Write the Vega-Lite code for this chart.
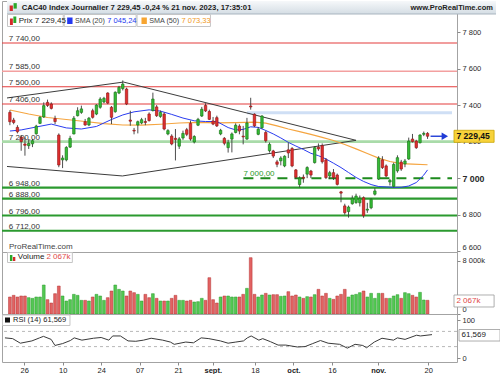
{
"$schema":"https://vega.github.io/schema/vega-lite/v6.json",
"padding":0,
"autosize":{"type":"pad"},
"background":"white",
"bounds":"flush",
"spacing":0,
"config":{"font":"Liberation Sans","view":{"stroke":"#a3a3a3","strokeWidth":1},
"axis":{"labelFont":"Liberation Sans","labelColor":"#2a2a2a","labelFontSize":7.5,"domain":false,"grid":false,"tickColor":"#8a8a8a","tickSize":3,"labelPadding":2,"labelOverlap":false,"labelBound":false,"labelFlush":false}},
"datasets":{
"ohlc":[{"i":-5,"o":7360,"h":7372,"l":7290,"c":7309,"v":2566},{"i":-4,"o":7318,"h":7330,"l":7295,"c":7305,"v":2817},{"i":-3,"o":7278,"h":7290,"l":7245,"c":7254,"v":2566},{"i":-2,"o":7225,"h":7235,"l":7150,"c":7200,"v":2717},{"i":-1,"o":7187,"h":7222,"l":7123,"c":7180,"v":2717},{"i":0,"o":7178,"h":7214,"l":7160,"c":7190,"v":2465},{"i":1,"o":7188,"h":7215,"l":7170,"c":7205,"v":2364},{"i":2,"o":7243,"h":7292,"l":7238,"c":7285,"v":2566},{"i":3,"o":7300,"h":7340,"l":7296,"c":7333,"v":2566},{"i":4,"o":7335,"h":7415,"l":7330,"c":7397,"v":4377},{"i":5,"o":7415,"h":7430,"l":7390,"c":7398,"v":2163},{"i":6,"o":7406,"h":7415,"l":7376,"c":7382,"v":1660},{"i":7,"o":7326,"h":7342,"l":7296,"c":7310,"v":3068},{"i":8,"o":7236,"h":7245,"l":7060,"c":7072,"v":4226},{"i":9,"o":7100,"h":7125,"l":7055,"c":7110,"v":2717},{"i":10,"o":7100,"h":7175,"l":7092,"c":7168,"v":1962},{"i":11,"o":7170,"h":7232,"l":7165,"c":7218,"v":2163},{"i":12,"o":7242,"h":7340,"l":7240,"c":7328,"v":2968},{"i":13,"o":7342,"h":7388,"l":7338,"c":7369,"v":2817},{"i":14,"o":7360,"h":7397,"l":7352,"c":7379,"v":2062},{"i":15,"o":7309,"h":7324,"l":7287,"c":7291,"v":2062},{"i":16,"o":7291,"h":7335,"l":7285,"c":7328,"v":1962},{"i":17,"o":7369,"h":7380,"l":7326,"c":7333,"v":2566},{"i":18,"o":7351,"h":7405,"l":7345,"c":7400,"v":2968},{"i":19,"o":7388,"h":7443,"l":7380,"c":7433,"v":2717},{"i":20,"o":7417,"h":7445,"l":7410,"c":7437,"v":2062},{"i":21,"o":7466,"h":7470,"l":7405,"c":7411,"v":2465},{"i":22,"o":7388,"h":7395,"l":7296,"c":7333,"v":3471},{"i":23,"o":7364,"h":7475,"l":7358,"c":7470,"v":4377},{"i":24,"o":7466,"h":7505,"l":7460,"c":7497,"v":3722},{"i":25,"o":7490,"h":7535,"l":7480,"c":7515,"v":3471},{"i":26,"o":7488,"h":7495,"l":7400,"c":7406,"v":2717},{"i":27,"o":7318,"h":7369,"l":7287,"c":7312,"v":3471},{"i":28,"o":7262,"h":7275,"l":7240,"c":7258,"v":3220},{"i":29,"o":7291,"h":7315,"l":7245,"c":7309,"v":2968},{"i":30,"o":7302,"h":7330,"l":7295,"c":7320,"v":1962},{"i":31,"o":7310,"h":7330,"l":7290,"c":7305,"v":2968},{"i":32,"o":7351,"h":7360,"l":7310,"c":7315,"v":2465},{"i":33,"o":7370,"h":7468,"l":7365,"c":7433,"v":3068},{"i":34,"o":7390,"h":7400,"l":7335,"c":7342,"v":2364},{"i":35,"o":7338,"h":7370,"l":7330,"c":7360,"v":1962},{"i":36,"o":7351,"h":7360,"l":7262,"c":7269,"v":1962},{"i":37,"o":7242,"h":7268,"l":7235,"c":7260,"v":1962},{"i":38,"o":7230,"h":7240,"l":7180,"c":7187,"v":2364},{"i":39,"o":7218,"h":7269,"l":7097,"c":7212,"v":2817},{"i":40,"o":7175,"h":7225,"l":7160,"c":7215,"v":2062},{"i":41,"o":7220,"h":7260,"l":7210,"c":7245,"v":2062},{"i":42,"o":7265,"h":7275,"l":7230,"c":7240,"v":1962},{"i":43,"o":7300,"h":7315,"l":7205,"c":7214,"v":2062},{"i":44,"o":7198,"h":7235,"l":7190,"c":7228,"v":1811},{"i":45,"o":7290,"h":7330,"l":7285,"c":7322,"v":1861},{"i":46,"o":7340,"h":7390,"l":7335,"c":7377,"v":2364},{"i":47,"o":7398,"h":7410,"l":7362,"c":7368,"v":2062},{"i":48,"o":7365,"h":7375,"l":7318,"c":7322,"v":5483},{"i":49,"o":7313,"h":7335,"l":7290,"c":7296,"v":2163},{"i":50,"o":7331,"h":7342,"l":7280,"c":7286,"v":1660},{"i":51,"o":7242,"h":7270,"l":7235,"c":7262,"v":2566},{"i":52,"o":7218,"h":7225,"l":7180,"c":7191,"v":2717},{"i":53,"o":7167,"h":7210,"l":7140,"c":7194,"v":2717},{"i":54,"o":7214,"h":7250,"l":7141,"c":7242,"v":2566},{"i":55,"o":7250,"h":7300,"l":7245,"c":7290,"v":2566},{"i":56,"o":7285,"h":7295,"l":7240,"c":7258,"v":2566},{"i":57,"o":7230,"h":7286,"l":7185,"c":7226,"v":2968},{"i":58,"o":7214,"h":7330,"l":7210,"c":7302,"v":3873},{"i":59,"o":7395,"h":7440,"l":7375,"c":7390,"v":8501},{"i":60,"o":7350,"h":7355,"l":7280,"c":7286,"v":2968},{"i":61,"o":7240,"h":7280,"l":7235,"c":7268,"v":2566},{"i":62,"o":7276,"h":7345,"l":7270,"c":7340,"v":2867},{"i":63,"o":7250,"h":7260,"l":7195,"c":7205,"v":3119},{"i":64,"o":7150,"h":7195,"l":7140,"c":7185,"v":2867},{"i":65,"o":7149,"h":7155,"l":7110,"c":7121,"v":2918},{"i":66,"o":7089,"h":7100,"l":7060,"c":7076,"v":2918},{"i":67,"o":7095,"h":7120,"l":7070,"c":7110,"v":2666},{"i":68,"o":7067,"h":7125,"l":7060,"c":7120,"v":2717},{"i":69,"o":7155,"h":7195,"l":7110,"c":7138,"v":3370},{"i":70,"o":7162,"h":7170,"l":7060,"c":7067,"v":2717},{"i":71,"o":7045,"h":7050,"l":6995,"c":7005,"v":2867},{"i":72,"o":6965,"h":7010,"l":6950,"c":7000,"v":2566},{"i":73,"o":7005,"h":7020,"l":6975,"c":7000,"v":2364},{"i":74,"o":7022,"h":7065,"l":7000,"c":7058,"v":2616},{"i":75,"o":7039,"h":7045,"l":7000,"c":7017,"v":2566},{"i":76,"o":7085,"h":7175,"l":7080,"c":7167,"v":2918},{"i":77,"o":7170,"h":7190,"l":7150,"c":7160,"v":3722},{"i":78,"o":7178,"h":7190,"l":7080,"c":7090,"v":2717},{"i":79,"o":7100,"h":7110,"l":6995,"c":7003,"v":3119},{"i":80,"o":7012,"h":7040,"l":6995,"c":7030,"v":2364},{"i":81,"o":7030,"h":7050,"l":6990,"c":7003,"v":2213},{"i":82,"o":7017,"h":7025,"l":6960,"c":6966,"v":2717},{"i":83,"o":6925,"h":6930,"l":6868,"c":6918,"v":2968},{"i":84,"o":6848,"h":6860,"l":6800,"c":6811,"v":3722},{"i":85,"o":6817,"h":6850,"l":6784,"c":6842,"v":2566},{"i":86,"o":6860,"h":6905,"l":6855,"c":6890,"v":2867},{"i":87,"o":6866,"h":6915,"l":6860,"c":6902,"v":2968},{"i":88,"o":6865,"h":6905,"l":6845,"c":6890,"v":3220},{"i":89,"o":6893,"h":6900,"l":6783,"c":6795,"v":3471},{"i":90,"o":6825,"h":6865,"l":6810,"c":6830,"v":2566},{"i":91,"o":6838,"h":6890,"l":6830,"c":6884,"v":3119},{"i":92,"o":6912,"h":6945,"l":6905,"c":6930,"v":2364},{"i":93,"o":6995,"h":7120,"l":6990,"c":7110,"v":3119},{"i":94,"o":7100,"h":7120,"l":7050,"c":7058,"v":3119},{"i":95,"o":7067,"h":7075,"l":7005,"c":7012,"v":2364},{"i":96,"o":6979,"h":6995,"l":6960,"c":6988,"v":2364},{"i":97,"o":6955,"h":7085,"l":6950,"c":7075,"v":2717},{"i":98,"o":7040,"h":7125,"l":7030,"c":7112,"v":2918},{"i":99,"o":7088,"h":7100,"l":7040,"c":7050,"v":2364},{"i":100,"o":7078,"h":7105,"l":7060,"c":7094,"v":3220},{"i":101,"o":7105,"h":7222,"l":7100,"c":7203,"v":3068},{"i":102,"o":7214,"h":7242,"l":7195,"c":7200,"v":2817},{"i":103,"o":7203,"h":7210,"l":7160,"c":7167,"v":2566},{"i":104,"o":7194,"h":7240,"l":7190,"c":7236,"v":3270},{"i":105,"o":7240,"h":7255,"l":7230,"c":7245,"v":2113},{"i":106,"o":7245,"h":7252,"l":7215,"c":7229.45,"v":2067}],
"sma20":[{"i":-5,"s":7258},{"i":-2,"s":7264},{"i":2,"s":7280},{"i":6,"s":7296},{"i":10,"s":7275},{"i":14,"s":7269},{"i":18,"s":7283},{"i":22,"s":7321},{"i":25,"s":7346},{"i":28,"s":7363},{"i":32,"s":7374},{"i":35,"s":7367},{"i":38,"s":7349},{"i":41,"s":7329},{"i":44,"s":7314},{"i":47,"s":7310},{"i":50,"s":7310},{"i":53,"s":7277},{"i":55,"s":7264},{"i":57,"s":7267},{"i":59,"s":7281},{"i":61,"s":7278},{"i":63,"s":7261},{"i":65,"s":7242},{"i":67,"s":7220},{"i":69,"s":7196},{"i":71,"s":7176},{"i":73,"s":7157},{"i":75,"s":7136},{"i":77,"s":7123},{"i":79,"s":7105},{"i":81,"s":7082},{"i":83,"s":7058},{"i":85,"s":7031},{"i":87,"s":7004},{"i":89,"s":6982},{"i":91,"s":6965},{"i":93,"s":6954},{"i":95,"s":6952},{"i":97,"s":6950},{"i":99,"s":6950},{"i":101,"s":6957},{"i":103,"s":6976},{"i":105,"s":7017},{"i":106,"s":7045.24}],
"sma50":[{"i":-5,"s":7373},{"i":0,"s":7351},{"i":5,"s":7332},{"i":10,"s":7321},{"i":15,"s":7310},{"i":20,"s":7299},{"i":25,"s":7291},{"i":30,"s":7290},{"i":35,"s":7295},{"i":40,"s":7302},{"i":45,"s":7305},{"i":50,"s":7303},{"i":55,"s":7304},{"i":60,"s":7307},{"i":63,"s":7301},{"i":66,"s":7286},{"i":69,"s":7269},{"i":72,"s":7255},{"i":75,"s":7240},{"i":78,"s":7223},{"i":81,"s":7206},{"i":84,"s":7184},{"i":87,"s":7160},{"i":90,"s":7135},{"i":93,"s":7110},{"i":96,"s":7091},{"i":99,"s":7080},{"i":102,"s":7077},{"i":106,"s":7073.33}],
"rsi":[{"i":-5,"r":53},{"i":-3,"r":51},{"i":-1,"r":39},{"i":2,"r":45},{"i":4,"r":53},{"i":5,"r":57},{"i":7,"r":49},{"i":8,"r":33},{"i":10,"r":38},{"i":12,"r":46},{"i":13,"r":53},{"i":15,"r":47},{"i":18,"r":52},{"i":20,"r":54},{"i":22,"r":47},{"i":23,"r":58},{"i":25,"r":58},{"i":27,"r":45},{"i":29,"r":44},{"i":31,"r":47},{"i":33,"r":52},{"i":36,"r":47},{"i":38,"r":42},{"i":39,"r":36},{"i":42,"r":42},{"i":44,"r":40},{"i":46,"r":53},{"i":48,"r":51},{"i":51,"r":45},{"i":53,"r":39},{"i":55,"r":42},{"i":57,"r":45},{"i":58,"r":53},{"i":59,"r":58},{"i":61,"r":47},{"i":62,"r":51},{"i":64,"r":43},{"i":66,"r":34},{"i":68,"r":34},{"i":71,"r":29},{"i":73,"r":30},{"i":75,"r":38},{"i":77,"r":46},{"i":79,"r":39},{"i":82,"r":36},{"i":84,"r":26},{"i":86,"r":36},{"i":88,"r":33},{"i":89,"r":27},{"i":91,"r":42},{"i":93,"r":52},{"i":96,"r":47},{"i":97,"r":53},{"i":99,"r":49},{"i":102,"r":60},{"i":103,"r":58},{"i":106,"r":61.569}],
"levels":[{"p":7740,"lab":"7 740,00","k":"r"},{"p":7585,"lab":"7 585,00","k":"rp"},{"p":7500,"lab":"7 500,00","k":"r"},{"p":7406,"lab":"7 406,00","k":"r"},{"p":7200,"lab":"7 200,00","k":"gl"},{"p":6948,"lab":"6 948,00","k":"g"},{"p":6888,"lab":"6 888,00","k":"g"},{"p":6796,"lab":"6 796,00","k":"g"},{"p":6712,"lab":"6 712,00","k":"g"}],
"tri":[{"s":"a","i":-5.77,"p":7439},{"s":"a","i":25.2,"p":7526},{"s":"a","i":87,"p":7207},{"s":"b","i":-5.77,"p":7064},{"s":"b","i":24.9,"p":7012},{"s":"b","i":87,"p":7207}]
},
"vconcat":[
{"width":455,"height":251,
"layer":[
{"data":{"values":[{}]},"mark":{"type":"rect","color":{"gradient":"linear","x1":0,"y1":0,"x2":0,"y2":1,"stops":[{"offset":0,"color":"#f6f8fa"},{"offset":1,"color":"#d4dde4"}]}},
 "encoding":{"x":{"datum":-5.77,"type":"quantitative","scale":{"domain":[-5.77,112.5],"nice":false,"zero":false},"axis":null},"x2":{"datum":124.2},"y":{"datum":7898.5,"type":"quantitative","scale":{"domain":[6595.8,7969.7],"nice":false,"zero":false},"title":null},"y2":{"datum":7969.7}}},
{"data":{"values":[{}]},"mark":{"type":"rule","color":"#a9b5bf","strokeWidth":1},
 "encoding":{"x":{"datum":-5.77,"type":"quantitative","scale":{"domain":[-5.77,112.5],"nice":false,"zero":false},"axis":null},"x2":{"datum":124.2},"y":{"datum":7898.5,"type":"quantitative","scale":{"domain":[6595.8,7969.7],"nice":false,"zero":false},"title":null}}},
{"data":{"values":[{}]},"mark":{"type":"rect","color":"#d42a2a"},
 "encoding":{"x":{"datum":-5.07,"type":"quantitative","scale":{"domain":[-5.77,112.5],"nice":false,"zero":false},"axis":null},"x2":{"datum":-4.21},"y":{"datum":7915,"type":"quantitative","scale":{"domain":[6595.8,7969.7],"nice":false,"zero":false},"title":null},"y2":{"datum":7945}}},
{"data":{"values":[{}]},"mark":{"type":"rect","color":"#2aa82a"},
 "encoding":{"x":{"datum":-4.03,"type":"quantitative","scale":{"domain":[-5.77,112.5],"nice":false,"zero":false},"axis":null},"x2":{"datum":-3.17},"y":{"datum":7928,"type":"quantitative","scale":{"domain":[6595.8,7969.7],"nice":false,"zero":false},"title":null},"y2":{"datum":7958}}},
{"data":{"values":[{}]},"mark":{"type":"text","text":"CAC40 Index Journalier 7 229,45 -0,24 % 21 nov. 2023, 17:35:01","align":"left","baseline":"middle","fontWeight":"bold","fontSize":7.7,"color":"#1c1c1c"},
 "encoding":{"x":{"datum":-1.87,"type":"quantitative","scale":{"domain":[-5.77,112.5],"nice":false,"zero":false},"axis":null},"y":{"datum":7931.4,"type":"quantitative","scale":{"domain":[6595.8,7969.7],"nice":false,"zero":false},"title":null}}},
{"data":{"values":[{}]},"mark":{"type":"text","text":"www.ProRealTime.com","align":"right","baseline":"middle","fontWeight":"bold","fontSize":7.5,"color":"#222222"},
 "encoding":{"x":{"datum":123.4,"type":"quantitative","scale":{"domain":[-5.77,112.5],"nice":false,"zero":false},"axis":null},"y":{"datum":7931.4,"type":"quantitative","scale":{"domain":[6595.8,7969.7],"nice":false,"zero":false},"title":null}}},
{"data":{"name":"levels"},"mark":{"type":"rule"},
 "encoding":{"y":{"field":"p","type":"quantitative","scale":{"domain":[6595.8,7969.7],"nice":false,"zero":false},"title":null},
 "color":{"field":"k","type":"nominal","scale":{"domain":["r","rp","g","gl"],"range":["#e43c3c","#f3a0a0","#2b9a2f","#a9dba9"]},"legend":null},
 "strokeWidth":{"field":"k","type":"nominal","scale":{"domain":["r","rp","g","gl"],"range":[1.1,2.6,1.2,2.6]},"legend":null}}},
{"data":{"values":[{}]},"mark":{"type":"rule","color":"#cfdff5","strokeWidth":3},
 "encoding":{"x":{"datum":58,"type":"quantitative","scale":{"domain":[-5.77,112.5],"nice":false,"zero":false},"axis":null},"x2":{"datum":112.5},"y":{"datum":7358,"type":"quantitative","scale":{"domain":[6595.8,7969.7],"nice":false,"zero":false},"title":null}}},
{"data":{"values":[{}]},"mark":{"type":"rule","color":"#1d8a1d","strokeWidth":2,"strokeDash":[10,7]},
 "encoding":{"x":{"datum":57.06,"type":"quantitative","scale":{"domain":[-5.77,112.5],"nice":false,"zero":false},"axis":null},"x2":{"datum":112.5},"y":{"datum":7000,"type":"quantitative","scale":{"domain":[6595.8,7969.7],"nice":false,"zero":false},"title":null}}},
{"data":{"values":[{}]},"mark":{"type":"text","text":"7 000,00","align":"left","baseline":"middle","fontSize":8,"color":"#2a9a2a"},
 "encoding":{"x":{"datum":57.06,"type":"quantitative","scale":{"domain":[-5.77,112.5],"nice":false,"zero":false},"axis":null},"y":{"datum":7021,"type":"quantitative","scale":{"domain":[6595.8,7969.7],"nice":false,"zero":false},"title":null}}},
{"data":{"name":"tri"},"mark":{"type":"line","color":"#3c3c3c","strokeWidth":1},
 "encoding":{"x":{"field":"i","type":"quantitative","scale":{"domain":[-5.77,112.5],"nice":false,"zero":false},"axis":null},"y":{"field":"p","type":"quantitative","scale":{"domain":[6595.8,7969.7],"nice":false,"zero":false},"title":null},"detail":{"field":"s"}}},
{"data":{"name":"sma50"},"mark":{"type":"line","color":"#f5a540","strokeWidth":1.2},
 "encoding":{"x":{"field":"i","type":"quantitative","scale":{"domain":[-5.77,112.5],"nice":false,"zero":false},"axis":null},"y":{"field":"s","type":"quantitative","scale":{"domain":[6595.8,7969.7],"nice":false,"zero":false},"title":null}}},
{"data":{"name":"sma20"},"mark":{"type":"line","color":"#2a3cf0","strokeWidth":1},
 "encoding":{"x":{"field":"i","type":"quantitative","scale":{"domain":[-5.77,112.5],"nice":false,"zero":false},"axis":null},"y":{"field":"s","type":"quantitative","scale":{"domain":[6595.8,7969.7],"nice":false,"zero":false},"title":null}}},
{"data":{"name":"ohlc"},"mark":{"type":"rule","color":"#3a3a3a","strokeWidth":0.9},
 "encoding":{"x":{"field":"i","type":"quantitative","scale":{"domain":[-5.77,112.5],"nice":false,"zero":false},"axis":null},
 "y":{"field":"l","type":"quantitative","scale":{"domain":[6595.8,7969.7],"nice":false,"zero":false},"title":null,
  "axis":{"orient":"right","values":[6600,6700,6800,6900,7000,7100,7200,7300,7400,7500,7600,7700,7800],"labelExpr":"replace(format(datum.value, ','), ',', ' ')","labelFontWeight":{"condition":{"test":"datum.value == 7000 || datum.value == 7500","value":"bold"},"value":"normal"},"labelFontSize":{"condition":{"test":"datum.value == 7000 || datum.value == 7500","value":8.8},"value":7.5},"labelOffset":{"condition":{"test":"datum.value == 6600","value":-4},"value":0},"title":null}},
 "y2":{"field":"h"}}},
{"data":{"name":"ohlc"},"mark":{"type":"bar","size":2.4,"strokeWidth":0.7},
 "encoding":{"x":{"field":"i","type":"quantitative","scale":{"domain":[-5.77,112.5],"nice":false,"zero":false},"axis":null},
 "y":{"field":"o","type":"quantitative","scale":{"domain":[6595.8,7969.7],"nice":false,"zero":false},"title":null},"y2":{"field":"c"},
 "color":{"condition":{"test":"datum.c >= datum.o","value":"#36bd36"},"value":"#e22f2f"},
 "stroke":{"condition":{"test":"datum.c >= datum.o","value":"#1b7a1b"},"value":"#981b1b"}}},
{"data":{"name":"levels"},"mark":{"type":"text","align":"left","baseline":"alphabetic","dy":-1.8,"fontSize":8,"color":"#333333"},
 "encoding":{"x":{"datum":-5.3,"type":"quantitative","scale":{"domain":[-5.77,112.5],"nice":false,"zero":false},"axis":null},"y":{"field":"p","type":"quantitative","scale":{"domain":[6595.8,7969.7],"nice":false,"zero":false},"title":null},"text":{"field":"lab"}}},
{"data":{"values":[{}]},"mark":{"type":"rect","fill":"white","stroke":"#c5c5c5","strokeWidth":1},
 "encoding":{"x":{"datum":-5.64,"type":"quantitative","scale":{"domain":[-5.77,112.5],"nice":false,"zero":false},"axis":null},"x2":{"datum":9.18},"y":{"datum":7830.1,"type":"quantitative","scale":{"domain":[6595.8,7969.7],"nice":false,"zero":false},"title":null},"y2":{"datum":7895.8}}},
{"data":{"values":[{}]},"mark":{"type":"rect","fill":"white","stroke":"#c5c5c5","strokeWidth":1},
 "encoding":{"x":{"datum":9.44,"type":"quantitative","scale":{"domain":[-5.77,112.5],"nice":false,"zero":false},"axis":null},"x2":{"datum":28.54},"y":{"datum":7830.1,"type":"quantitative","scale":{"domain":[6595.8,7969.7],"nice":false,"zero":false},"title":null},"y2":{"datum":7895.8}}},
{"data":{"values":[{}]},"mark":{"type":"rect","fill":"white","stroke":"#c5c5c5","strokeWidth":1},
 "encoding":{"x":{"datum":28.8,"type":"quantitative","scale":{"domain":[-5.77,112.5],"nice":false,"zero":false},"axis":null},"x2":{"datum":48.3},"y":{"datum":7830.1,"type":"quantitative","scale":{"domain":[6595.8,7969.7],"nice":false,"zero":false},"title":null},"y2":{"datum":7895.8}}},
{"data":{"values":[{}]},"mark":{"type":"rect","color":"#d42a2a"},
 "encoding":{"x":{"datum":-4.99,"type":"quantitative","scale":{"domain":[-5.77,112.5],"nice":false,"zero":false},"axis":null},"x2":{"datum":-4.21},"y":{"datum":7838.3,"type":"quantitative","scale":{"domain":[6595.8,7969.7],"nice":false,"zero":false},"title":null},"y2":{"datum":7873.9}}},
{"data":{"values":[{}]},"mark":{"type":"rect","color":"#2aa82a"},
 "encoding":{"x":{"datum":-4.08,"type":"quantitative","scale":{"domain":[-5.77,112.5],"nice":false,"zero":false},"axis":null},"x2":{"datum":-3.3},"y":{"datum":7849.3,"type":"quantitative","scale":{"domain":[6595.8,7969.7],"nice":false,"zero":false},"title":null},"y2":{"datum":7884.9}}},
{"data":{"values":[{}]},"mark":{"type":"rect","color":"#2438f0"},
 "encoding":{"x":{"datum":10.22,"type":"quantitative","scale":{"domain":[-5.77,112.5],"nice":false,"zero":false},"axis":null},"x2":{"datum":11.65},"y":{"datum":7843.8,"type":"quantitative","scale":{"domain":[6595.8,7969.7],"nice":false,"zero":false},"title":null},"y2":{"datum":7879.4}}},
{"data":{"values":[{}]},"mark":{"type":"rect","color":"#f7a531"},
 "encoding":{"x":{"datum":29.97,"type":"quantitative","scale":{"domain":[-5.77,112.5],"nice":false,"zero":false},"axis":null},"x2":{"datum":31.4},"y":{"datum":7843.8,"type":"quantitative","scale":{"domain":[6595.8,7969.7],"nice":false,"zero":false},"title":null},"y2":{"datum":7879.4}}},
{"data":{"values":[{}]},"mark":{"type":"text","text":"Prix 7 229,45","align":"left","baseline":"middle","fontSize":8,"color":"#222222"},
 "encoding":{"x":{"datum":-2.65,"type":"quantitative","scale":{"domain":[-5.77,112.5],"nice":false,"zero":false},"axis":null},"y":{"datum":7862,"type":"quantitative","scale":{"domain":[6595.8,7969.7],"nice":false,"zero":false},"title":null}}},
{"data":{"values":[{}]},"mark":{"type":"text","text":"SMA (20)","align":"left","baseline":"middle","fontSize":7.2,"color":"#444444"},
 "encoding":{"x":{"datum":12.3,"type":"quantitative","scale":{"domain":[-5.77,112.5],"nice":false,"zero":false},"axis":null},"y":{"datum":7862,"type":"quantitative","scale":{"domain":[6595.8,7969.7],"nice":false,"zero":false},"title":null}}},
{"data":{"values":[{}]},"mark":{"type":"text","text":"7 045,24","align":"left","baseline":"middle","fontSize":7.5,"color":"#2438f0"},
 "encoding":{"x":{"datum":20.9,"type":"quantitative","scale":{"domain":[-5.77,112.5],"nice":false,"zero":false},"axis":null},"y":{"datum":7862,"type":"quantitative","scale":{"domain":[6595.8,7969.7],"nice":false,"zero":false},"title":null}}},
{"data":{"values":[{}]},"mark":{"type":"text","text":"SMA (50)","align":"left","baseline":"middle","fontSize":7.2,"color":"#444444"},
 "encoding":{"x":{"datum":32.05,"type":"quantitative","scale":{"domain":[-5.77,112.5],"nice":false,"zero":false},"axis":null},"y":{"datum":7862,"type":"quantitative","scale":{"domain":[6595.8,7969.7],"nice":false,"zero":false},"title":null}}},
{"data":{"values":[{}]},"mark":{"type":"text","text":"7 073,33","align":"left","baseline":"middle","fontSize":7.5,"color":"#f09a1d"},
 "encoding":{"x":{"datum":40.6,"type":"quantitative","scale":{"domain":[-5.77,112.5],"nice":false,"zero":false},"axis":null},"y":{"datum":7862,"type":"quantitative","scale":{"domain":[6595.8,7969.7],"nice":false,"zero":false},"title":null}}},
{"data":{"values":[{}]},"mark":{"type":"text","text":"ProRealTime.com","align":"left","baseline":"middle","fontSize":8,"color":"#444444"},
 "encoding":{"x":{"datum":-5.25,"type":"quantitative","scale":{"domain":[-5.77,112.5],"nice":false,"zero":false},"axis":null},"y":{"datum":6623,"type":"quantitative","scale":{"domain":[6595.8,7969.7],"nice":false,"zero":false},"title":null}}},
{"data":{"values":[{}]},"mark":{"type":"rule","color":"#1f3bd6","strokeWidth":1.4},
 "encoding":{"x":{"datum":106.8,"type":"quantitative","scale":{"domain":[-5.77,112.5],"nice":false,"zero":false},"axis":null},"x2":{"datum":110.4},"y":{"datum":7229.45,"type":"quantitative","scale":{"domain":[6595.8,7969.7],"nice":false,"zero":false},"title":null}}},
{"data":{"values":[{}]},"mark":{"type":"point","shape":"triangle-right","filled":true,"size":55,"color":"#1f3bd6","opacity":1},
 "encoding":{"x":{"datum":110.6,"type":"quantitative","scale":{"domain":[-5.77,112.5],"nice":false,"zero":false},"axis":null},"y":{"datum":7229.45,"type":"quantitative","scale":{"domain":[6595.8,7969.7],"nice":false,"zero":false},"title":null}}},
{"data":{"values":[{}]},"mark":{"type":"rect","fill":"#f7d23a","stroke":"#c9a400","strokeWidth":0.8},
 "encoding":{"x":{"datum":113.03,"type":"quantitative","scale":{"domain":[-5.77,112.5],"nice":false,"zero":false},"axis":null},"x2":{"datum":123.69},"y":{"datum":7196,"type":"quantitative","scale":{"domain":[6595.8,7969.7],"nice":false,"zero":false},"title":null},"y2":{"datum":7262}}},
{"data":{"values":[{}]},"mark":{"type":"text","text":"7 229,45","align":"left","baseline":"middle","fontSize":8.6,"fontWeight":"bold","color":"#111111"},
 "encoding":{"x":{"datum":113.67,"type":"quantitative","scale":{"domain":[-5.77,112.5],"nice":false,"zero":false},"axis":null},"y":{"datum":7229.45,"type":"quantitative","scale":{"domain":[6595.8,7969.7],"nice":false,"zero":false},"title":null}}}
]},
{"width":455,"height":62,
"layer":[
{"data":{"name":"ohlc"},"mark":{"type":"bar","size":2.8,"strokeWidth":0.5},
 "encoding":{"x":{"field":"i","type":"quantitative","scale":{"domain":[-5.77,112.5],"nice":false,"zero":false},"axis":null},
 "y":{"field":"v","type":"quantitative","scale":{"domain":[0,9358],"nice":false,"zero":false},"title":null,
  "axis":{"orient":"right","values":[0,2000,4000,6000,8000],"labelExpr":"datum.value == 0 ? '0' : replace(format(datum.value, ','), ',', ' ') + 'k'","labelOffset":{"condition":{"test":"datum.value == 0","value":-5},"value":0},"title":null}},
 "color":{"condition":{"test":"datum.c >= datum.o","value":"#52c852"},"value":"#e26262"},
 "stroke":{"condition":{"test":"datum.c >= datum.o","value":"#2a9a2a"},"value":"#b53434"}}},
{"data":{"values":[{}]},"mark":{"type":"rect","fill":"white","stroke":"#c5c5c5","strokeWidth":1},
 "encoding":{"x":{"datum":-5.64,"type":"quantitative","scale":{"domain":[-5.77,112.5],"nice":false,"zero":false},"axis":null},"x2":{"datum":11.6},"y":{"datum":7773,"type":"quantitative","scale":{"domain":[0,9358],"nice":false,"zero":false},"title":null},"y2":{"datum":9283}}},
{"data":{"values":[{}]},"mark":{"type":"rect","color":"#2aa82a"},
 "encoding":{"x":{"datum":-4.99,"type":"quantitative","scale":{"domain":[-5.77,112.5],"nice":false,"zero":false},"axis":null},"x2":{"datum":-4.34},"y":{"datum":7999,"type":"quantitative","scale":{"domain":[0,9358],"nice":false,"zero":false},"title":null},"y2":{"datum":8905}}},
{"data":{"values":[{}]},"mark":{"type":"rect","color":"#d42a2a"},
 "encoding":{"x":{"datum":-4.2,"type":"quantitative","scale":{"domain":[-5.77,112.5],"nice":false,"zero":false},"axis":null},"x2":{"datum":-3.56},"y":{"datum":7999,"type":"quantitative","scale":{"domain":[0,9358],"nice":false,"zero":false},"title":null},"y2":{"datum":8603}}},
{"data":{"values":[{}]},"mark":{"type":"text","text":"Volume","align":"left","baseline":"middle","fontSize":8,"color":"#222222"},
 "encoding":{"x":{"datum":-2.91,"type":"quantitative","scale":{"domain":[-5.77,112.5],"nice":false,"zero":false},"axis":null},"y":{"datum":8558,"type":"quantitative","scale":{"domain":[0,9358],"nice":false,"zero":false},"title":null}}},
{"data":{"values":[{}]},"mark":{"type":"text","text":"2 067k","align":"left","baseline":"middle","fontSize":8,"color":"#e04848"},
 "encoding":{"x":{"datum":4.7,"type":"quantitative","scale":{"domain":[-5.77,112.5],"nice":false,"zero":false},"axis":null},"y":{"datum":8558,"type":"quantitative","scale":{"domain":[0,9358],"nice":false,"zero":false},"title":null}}},
{"data":{"values":[{}]},"mark":{"type":"rect","fill":"white","stroke":"#9a9a9a","strokeWidth":0.8},
 "encoding":{"x":{"datum":113.03,"type":"quantitative","scale":{"domain":[-5.77,112.5],"nice":false,"zero":false},"axis":null},"x2":{"datum":123.69},"y":{"datum":1057,"type":"quantitative","scale":{"domain":[0,9358],"nice":false,"zero":false},"title":null},"y2":{"datum":2868}}},
{"data":{"values":[{}]},"mark":{"type":"text","text":"2 067k","align":"left","baseline":"middle","fontSize":8,"color":"#e04848"},
 "encoding":{"x":{"datum":113.67,"type":"quantitative","scale":{"domain":[-5.77,112.5],"nice":false,"zero":false},"axis":null},"y":{"datum":2000,"type":"quantitative","scale":{"domain":[0,9358],"nice":false,"zero":false},"title":null}}}
]},
{"width":455,"height":48,
"layer":[
{"data":{"values":[{"r":70},{"r":30}]},"mark":{"type":"rule","color":"#b8b8b8","strokeDash":[3,3],"strokeWidth":1},
 "encoding":{"y":{"field":"r","type":"quantitative","scale":{"domain":[-10.5,115.8],"nice":false,"zero":false},"title":null}}},
{"data":{"name":"rsi"},"mark":{"type":"line","color":"#3a3a3a","strokeWidth":1},
 "encoding":{"x":{"field":"i","type":"quantitative","scale":{"domain":[-5.77,112.5],"nice":false,"zero":false},"title":null,
  "axis":{"orient":"bottom","values":[0,5,10,15,20,25.5,30,35,40,45,49,55,60,65,70,75,80,85,92,100,105,110],"labelExpr":"['26','juil.','10','17','24','août','07','14','21','28','sept.','11','18','25','oct.','09','16','23','nov.','13','20','27'][indexof([0,5,10,15,20,25.5,30,35,40,45,49,55,60,65,70,75,80,85,92,100,105,110], datum.value)]","labelFontWeight":{"condition":{"test":"indexof([5,25.5,49,70,92], datum.value) >= 0","value":"bold"},"value":"normal"},"labelPadding":1,"labelFontSize":7.5,"labelColor":"#222222","title":null}},
 "y":{"field":"r","type":"quantitative","scale":{"domain":[-10.5,115.8],"nice":false,"zero":false},"title":null,"axis":{"orient":"right","values":[0,50,100],"title":null}}}},
{"data":{"values":[{}]},"mark":{"type":"rect","fill":"white","stroke":"#c5c5c5","strokeWidth":1},
 "encoding":{"x":{"datum":-5.64,"type":"quantitative","scale":{"domain":[-5.77,112.5],"nice":false,"zero":false}},"x2":{"datum":11.9},"y":{"datum":85.5,"type":"quantitative","scale":{"domain":[-10.5,115.8],"nice":false,"zero":false},"title":null},"y2":{"datum":113.2}}},
{"data":{"values":[{}]},"mark":{"type":"rect","color":"#111111"},
 "encoding":{"x":{"datum":-4.99,"type":"quantitative","scale":{"domain":[-5.77,112.5],"nice":false,"zero":false}},"x2":{"datum":-3.69},"y":{"datum":93.4,"type":"quantitative","scale":{"domain":[-10.5,115.8],"nice":false,"zero":false},"title":null},"y2":{"datum":106.6}}},
{"data":{"values":[{}]},"mark":{"type":"text","text":"RSI (14)","align":"left","baseline":"middle","fontSize":7.5,"color":"#222222"},
 "encoding":{"x":{"datum":-2.91,"type":"quantitative","scale":{"domain":[-5.77,112.5],"nice":false,"zero":false}},"y":{"datum":98.7,"type":"quantitative","scale":{"domain":[-10.5,115.8],"nice":false,"zero":false},"title":null}}},
{"data":{"values":[{}]},"mark":{"type":"text","text":"61,569","align":"left","baseline":"middle","fontSize":7.5,"color":"#222222"},
 "encoding":{"x":{"datum":4.95,"type":"quantitative","scale":{"domain":[-5.77,112.5],"nice":false,"zero":false}},"y":{"datum":98.7,"type":"quantitative","scale":{"domain":[-10.5,115.8],"nice":false,"zero":false},"title":null}}},
{"data":{"values":[{}]},"mark":{"type":"rect","fill":"white","stroke":"#9a9a9a","strokeWidth":0.8},
 "encoding":{"x":{"datum":113.03,"type":"quantitative","scale":{"domain":[-5.77,112.5],"nice":false,"zero":false}},"x2":{"datum":123.69},"y":{"datum":44.7,"type":"quantitative","scale":{"domain":[-10.5,115.8],"nice":false,"zero":false},"title":null},"y2":{"datum":75}}},
{"data":{"values":[{}]},"mark":{"type":"text","text":"61,569","align":"left","baseline":"middle","fontSize":8,"color":"#222222"},
 "encoding":{"x":{"datum":113.67,"type":"quantitative","scale":{"domain":[-5.77,112.5],"nice":false,"zero":false}},"y":{"datum":61.57,"type":"quantitative","scale":{"domain":[-10.5,115.8],"nice":false,"zero":false},"title":null}}}
]}
]
}
